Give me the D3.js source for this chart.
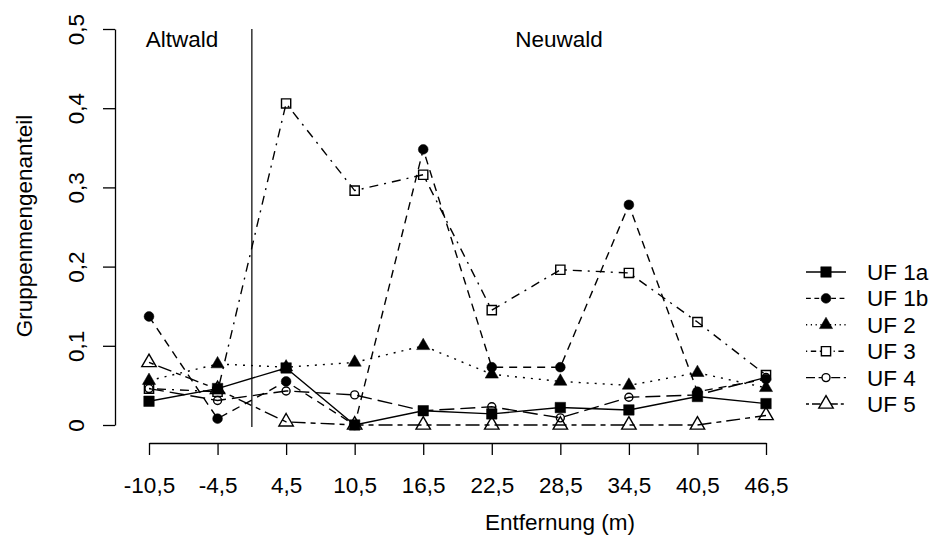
<!DOCTYPE html>
<html>
<head>
<meta charset="utf-8">
<script src="https://cdn.jsdelivr.net/npm/d3@7"></script>
<style>
  body { margin: 0; background: #fff; }
  svg text { font-family: "Liberation Sans", Arial, sans-serif; font-size: 22.5px; fill: #000; }
</style>
</head>
<body>
<svg id="chart" width="935" height="550"></svg>
<script>
// distances (m) along the transect
const categories = ['-10,5', '-4,5', '4,5', '10,5', '16,5', '22,5', '28,5', '34,5', '40,5', '46,5'];
const yTicks = [0, 0.1, 0.2, 0.3, 0.4, 0.5];

const uf1a = [0.030, 0.046, 0.072, 0.000, 0.018, 0.014, 0.022, 0.019, 0.036, 0.027];
const uf1b = [0.137, 0.008, 0.055, 0.000, 0.348, 0.073, 0.073, 0.278, 0.042, 0.058];
const uf2 = [0.056, 0.077, 0.073, 0.079, 0.100, 0.064, 0.055, 0.050, 0.066, 0.047];
const uf3 = [0.046, 0.042, 0.406, 0.296, 0.316, 0.145, 0.196, 0.192, 0.130, 0.063];
const uf4 = [0.046, 0.031, 0.043, 0.038, 0.018, 0.023, 0.009, 0.035, 0.038, 0.060];
const uf5 = [0.079, 0.045, 0.004, 0.000, 0.000, 0.000, 0.000, 0.000, 0.000, 0.012];

const seriesNames = ['UF 1a', 'UF 1b', 'UF 2', 'UF 3', 'UF 4', 'UF 5'];
const seriesValues = [uf1a, uf1b, uf2, uf3, uf4, uf5];
const regionLabels = ['Altwald', 'Neuwald'];

// styles per series (R-like lty / pch)
const styles = [
  { dash: null, symbol: d3.symbolSquare, size: 110, filled: true },
  { dash: '8,6', symbol: d3.symbolCircle, size: 75, filled: true },
  { dash: '2,6', symbol: d3.symbolTriangle, size: 75, filled: true },
  { dash: '2,6,9,6', symbol: d3.symbolSquare, size: 85, filled: false },
  { dash: '15,6', symbol: d3.symbolCircle, size: 50, filled: false },
  { dash: '5,5,14,5', symbol: d3.symbolTriangle, size: 90, filled: false },
];

const svg = d3.select('#chart');

const x = d3.scaleLinear().domain([0, categories.length - 1]).range([149, 766]);
const y = d3.scaleLinear().domain([0, 0.5]).range([425, 29]);
const fmt = (v) => (v === 0 ? '0' : d3.format('.1f')(v).replace('.', ','));

// y axis
const yAxis = svg.append('g')
  .attr('transform', 'translate(115,0)')
  .call(d3.axisLeft(y).tickValues(yTicks).tickSize(12).tickSizeOuter(0).tickFormat(fmt));
yAxis.selectAll('path, line').attr('stroke', '#000').attr('stroke-width', 1.3);
yAxis.selectAll('text')
  .attr('x', 0).attr('y', -31).attr('dy', null)
  .attr('transform', 'rotate(-90)')
  .attr('text-anchor', 'middle')
  .style('font-size', '22.5px');

// x axis
const xAxis = svg.append('g')
  .attr('transform', 'translate(0,443)')
  .call(d3.axisBottom(x).tickValues(d3.range(categories.length))
    .tickSize(12).tickSizeOuter(0).tickPadding(22)
    .tickFormat((i) => categories[i]));
xAxis.selectAll('path, line').attr('stroke', '#000').attr('stroke-width', 1.3);
xAxis.selectAll('text').style('font-size', '22.5px');

// axis titles
svg.append('text')
  .attr('x', 560).attr('y', 530)
  .attr('text-anchor', 'middle')
  .text('Entfernung (m)');

svg.append('text')
  .attr('transform', 'translate(32,226) rotate(-90)')
  .attr('text-anchor', 'middle')
  .text('Gruppenmengenanteil');

// separator Altwald / Neuwald
svg.append('line')
  .attr('x1', x(1.5)).attr('x2', x(1.5))
  .attr('y1', y(0.5)).attr('y2', y(0) + 2)
  .attr('stroke', '#333').attr('stroke-width', 1.5);

svg.append('text').attr('x', 182).attr('y', 47).attr('text-anchor', 'middle').text(regionLabels[0]);
svg.append('text').attr('x', 559).attr('y', 47).attr('text-anchor', 'middle').text(regionLabels[1]);

// series
const line = d3.line().x((d, i) => x(i)).y((d) => y(d));

seriesValues.forEach((vals, s) => {
  const st = styles[s];
  svg.append('path')
    .datum(vals)
    .attr('d', line)
    .attr('fill', 'none')
    .attr('stroke', '#000')
    .attr('stroke-width', 1.4)
    .attr('stroke-dasharray', st.dash);

  svg.selectAll(null)
    .data(vals)
    .enter()
    .append('path')
    .attr('transform', (d, i) => `translate(${x(i)},${y(d)})`)
    .attr('d', d3.symbol().type(st.symbol).size(st.size))
    .attr('fill', st.filled ? '#000' : 'none')
    .attr('stroke', '#000')
    .attr('stroke-width', st.filled ? 0.5 : 1.4);
});

// legend
const legend = svg.append('g');
const rowY = (i) => 272 + i * 26.4;

seriesNames.forEach((name, s) => {
  const st = styles[s];
  const ly = rowY(s);
  legend.append('line')
    .attr('x1', 806).attr('x2', 846)
    .attr('y1', ly).attr('y2', ly)
    .attr('stroke', '#000').attr('stroke-width', 1.4)
    .attr('stroke-dasharray', st.dash ? st.dash.split(',').map((v) => v * 0.6).join(',') : null);
  legend.append('path')
    .attr('transform', `translate(826,${ly})`)
    .attr('d', d3.symbol().type(st.symbol).size(st.size))
    .attr('fill', st.filled ? '#000' : '#fff')
    .attr('stroke', '#000')
    .attr('stroke-width', st.filled ? 0.5 : 1.4);
  legend.append('text')
    .attr('x', 867).attr('y', ly + 8)
    .text(name);
});
</script>
</body>
</html>
